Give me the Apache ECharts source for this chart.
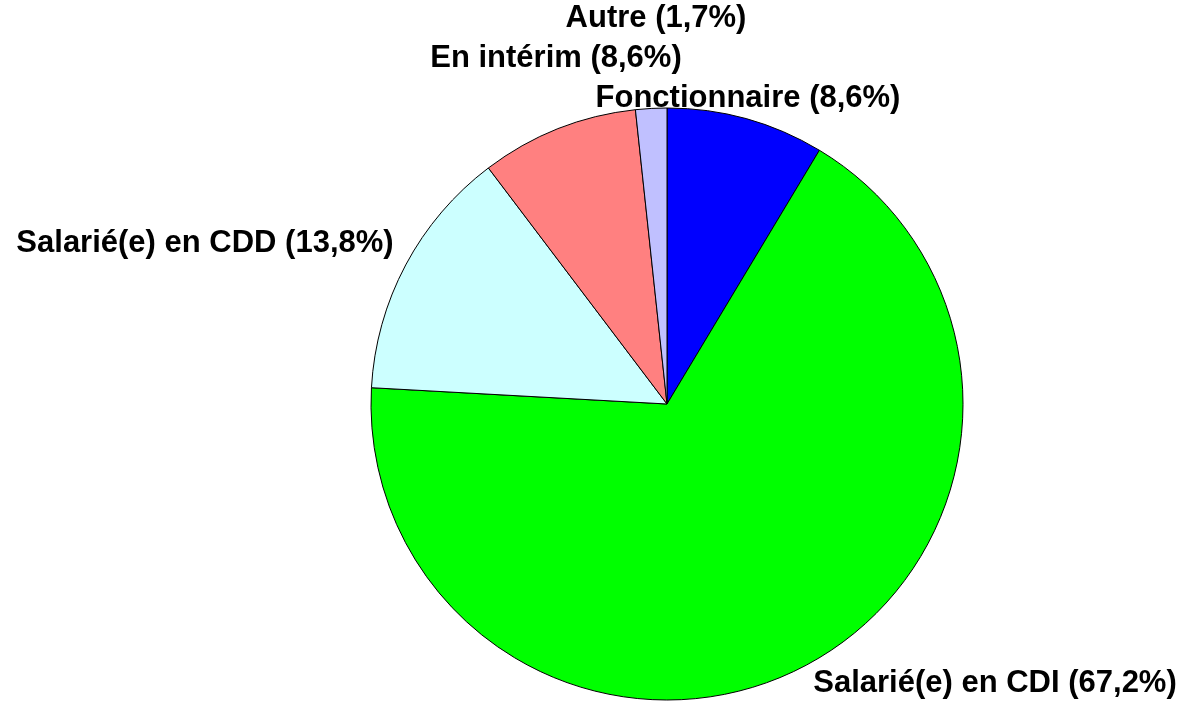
<!DOCTYPE html>
<html>
<head>
<meta charset="utf-8">
<script src="https://cdn.jsdelivr.net/npm/echarts@6/dist/echarts.min.js"></script>
<style>
  html, body { margin: 0; padding: 0; background: #fff; }
  #chart { width: 1187px; height: 710px; }
</style>
</head>
<body>
<div id="chart"></div>
<script>
// slices, clockwise from 12 o'clock
var categories = ['Fonctionnaire', 'Salarié(e) en CDI', 'Salarié(e) en CDD', 'En intérim', 'Autre']
var values = [8.6, 67.2, 13.8, 8.6, 1.7]
var colors = ['#0000FF', '#00FF00', '#CCFFFF', '#FF8080', '#C0C0FF']

// where each label sits (text centre), like the original sheet placed them
var labelSpots = [[748, 98], [995, 683], [205, 243], [556, 58], [656, 18]]

var chart = echarts.init(document.getElementById('chart'))

var option = {
  animation: false,
  series: [
    {
      type: 'pie',
      center: [667, 404],
      radius: 296,
      startAngle: 90,
      clockwise: true,
      avoidLabelOverlap: false,
      itemStyle: {
        borderColor: '#000',
        borderWidth: 1
      },
      emphasis: { disabled: true },
      label: {
        show: true,
        position: 'outside',
        fontFamily: 'Liberation Sans, Arial, sans-serif',
        fontWeight: 'bold',
        fontSize: 31,
        color: '#000',
        formatter: function(p) {
          return p.name + ' (' + String(p.value).replace('.', ',') + '%)'
        }
      },
      labelLine: { show: false },
      labelLayout: function(p) {
        var s = labelSpots[p.dataIndex]
        return { x: s[0], y: s[1], align: 'center', verticalAlign: 'middle' }
      },
      data: categories.map(function(name, i) {
        return { name: name, value: values[i], itemStyle: { color: colors[i] } }
      })
    }
  ]
}
chart.setOption(option)
</script>
</body>
</html>
